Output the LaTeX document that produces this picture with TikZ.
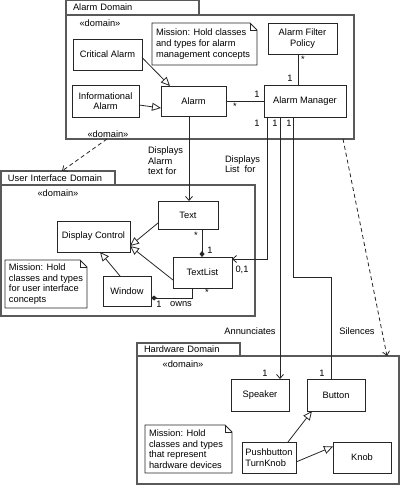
\documentclass[tikz,border=0pt]{standalone}
\usepackage{fontspec}
\setmainfont{Liberation Sans}
\usetikzlibrary{arrows.meta,calc}
\begin{document}
\begin{tikzpicture}[x=1pt,y=-1pt,
 every node/.style={font=\fontsize{9.3}{10.6}\selectfont, inner sep=0pt, outer sep=0pt},
 cls/.style={draw=black!85, line width=0.8pt, align=center, fill=white},
 frm/.style={draw=black!65, line width=1.2pt},
 tab/.style={frm, anchor=north west, align=left, inner xsep=7pt},
 ln/.style={draw=black!85, line width=0.8pt},
 gen/.style={ln, -{Triangle[open,length=9pt,width=8pt,fill=white]}},
 nav/.style={ln, -{Straight Barb[length=4pt,width=7pt]}},
 comp/.style={ln, -{Diamond[length=6pt,width=5pt]}},
 dep/.style={ln, dash pattern=on 4pt off 3pt, -{Straight Barb[length=4pt,width=7pt]}},
 lbl/.style={align=left, anchor=west},
 notebox/.style={ln, fill=white},
]
\useasboundingbox (0,0) rectangle (400,494);

% ---------- Alarm Domain ----------
\node[tab, minimum height=15pt, text width=119pt] (adtab) at (66,0) {Alarm Domain};
\node[frm, anchor=north west, minimum width=288pt, minimum height=124pt] (adom) at (66,15) {};
\node (addom1) at (100,23) {«domain»};
\node (addom2) at (108,134) {«domain»};

\draw[notebox] (152,23) -- (250,23) -- (257,30) -- (257,65) -- (152,65) -- cycle;
\draw[ln] (250,23) -- (250,30) -- (257,30);
\node[lbl] (anote) at (156,44) {Mission: Hold classes\\and types for alarm\\management concepts};

\node[cls, minimum width=69pt, minimum height=31pt] (crit) at (107.5,54.5) {Critical Alarm};
\node[cls, minimum width=67pt, minimum height=32pt] (info) at (105.5,101) {Informational\\Alarm};
\node[cls, minimum width=65pt, minimum height=30pt] (alarm) at (193.5,101) {Alarm};
\node[cls, minimum width=69pt, minimum height=31pt] (filter) at (302.5,38.5) {Alarm Filter\\Policy};
\node[cls, minimum width=82pt, minimum height=32pt] (mgr) at (305,101) {Alarm Manager};

\draw[gen] ([yshift=-3pt]crit.east) -- ([xshift=9pt]alarm.north west);
\draw[gen] ([yshift=-4pt]info.east) -- ([yshift=-7pt]alarm.west);
\draw[ln] (alarm.east) -- (mgr.west);
\node (s1) at (235,106) {*};
\node (o1) at (257,94) {1};
\draw[ln] ([xshift=-4.5pt]filter.south) -- ([xshift=-4.5pt]filter.south |- mgr.north);
\node (s2) at (303,59) {*};
\node (o2) at (290,78) {1};
\node (o3) at (257,123) {1};
\node (o4) at (275,123) {1};
\node (o5) at (289,123) {1};

% ---------- User Interface Domain ----------
\node[tab, minimum height=14pt, text width=100pt] (uitab) at (1,171) {User Interface Domain};
\node[frm, anchor=north west, minimum width=254pt, minimum height=131pt] (uidom) at (1,185) {};
\node (uidomlbl) at (58,193) {«domain»};

\node[cls, minimum width=60pt, minimum height=28pt] (txt) at (188,215) {Text};
\node[cls, minimum width=73pt, minimum height=31pt] (dc) at (93.5,236.5) {Display Control};
\node[cls, minimum width=59pt, minimum height=31pt] (tlist) at (202.5,272.5) {TextList};
\node[cls, minimum width=48pt, minimum height=30pt] (win) at (127,291) {Window};

\draw[notebox] (5,260) -- (80,260) -- (87,267) -- (87,308) -- (5,308) -- cycle;
\draw[ln] (80,260) -- (80,267) -- (87,267);
\node[lbl] (uinote) at (9,284) {Mission: Hold\\classes and types\\for user interface\\concepts};

\draw[gen] ([yshift=-8pt]txt.west) -- ([yshift=-9.5pt]dc.east);
\draw[gen] ([yshift=-7.5pt]tlist.west) -- ([yshift=-9.5pt]dc.east);
\draw[gen] ([xshift=-7pt]win.north) -- ([xshift=6.5pt]dc.south);
\draw[comp] ([xshift=14pt]txt.south) -- ([xshift=14pt]txt.south |- tlist.north);
\node (s3) at (196,235) {*};
\node (o6) at (210,250) {1};
\draw[comp] ([xshift=-10.5pt]tlist.south) |- ([yshift=-7pt]win.east);
\node (s4) at (207,292) {*};
\node (o7) at (159,304) {1};
\node (owns) at (181,304) {owns};
\node (zo) at (242,270) {0,1};

% ---------- Hardware Domain ----------
\node[tab, minimum height=13pt, text width=89pt] (hwtab) at (137,343) {Hardware Domain};
\node[frm, anchor=north west, minimum width=262pt, minimum height=128pt] (hwdom) at (137,356) {};
\node (hwdomlbl) at (183,364) {«domain»};

\node[cls, minimum width=58pt, minimum height=32pt] (spk) at (260,395) {Speaker};
\node[cls, minimum width=58pt, minimum height=32pt] (btn) at (336,395) {Button};
\node[cls, minimum width=54pt, minimum height=31pt, align=left] (pb) at (269,457.5) {Pushbutton\\TurnKnob};
\node[cls, minimum width=58pt, minimum height=31pt] (knob) at (362,457.5) {Knob};

\draw[notebox] (145,425) -- (225,425) -- (232,432) -- (232,473) -- (145,473) -- cycle;
\draw[ln] (225,425) -- (225,432) -- (232,432);
\node[lbl] (hwnote) at (149,449) {Mission: Hold\\classes and types\\that represent\\hardware devices};

\draw[gen] ([xshift=19pt]pb.north) -- ([xshift=-24pt]btn.south);
\draw[gen] ([yshift=-4.5pt]pb.east) -- ([yshift=11pt]knob.west);
\node (o8) at (265,373) {1};
\node (o9) at (322,373) {1};

% ---------- cross-domain connectors ----------
\draw[nav] ([xshift=-4.5pt]alarm.south) -- ([xshift=-4.5pt]alarm.south |- txt.north);
\node[lbl] (lab1) at (148,161) {Displays\\Alarm\\text for};
\draw[nav] ([xshift=3pt]mgr.south west) |- ([yshift=-2pt]tlist.north east);
\node[lbl] (lab2) at (225,164) {Displays\\List\ \ for};
\draw[nav] ([xshift=16pt]mgr.south west) -- ([xshift=16pt]mgr.south west |- spk.north);
\node (lab3) at (250,331) {Annunciates};
\coordinate (bend1) at ($(mgr.south west)+(29,160)$);
\draw[ln] ([xshift=29pt]mgr.south west) -- (bend1) -| ([xshift=-5pt]btn.north);
\node (lab4) at (357,331) {Silences};

\draw[dep] ($(adom.south west)+(41,0)$) -- ($(uitab.north west)+(61,0)$);
\draw[dep] ($(adom.south east)+(-11,0)$) -- ($(hwdom.north east)+(-12,0)$);
\end{tikzpicture}
\end{document}
